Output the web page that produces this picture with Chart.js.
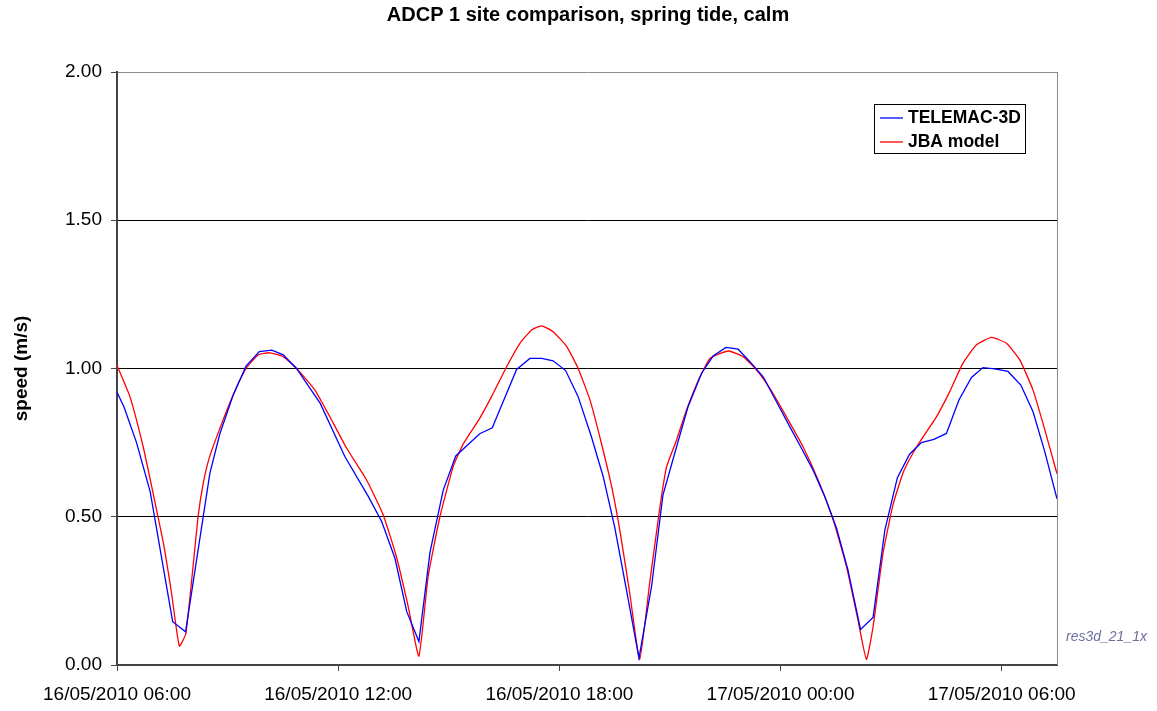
<!DOCTYPE html>
<html lang="en">
<head>
    <meta charset="UTF-8">
    <title>ADCP 1 site comparison</title>
    <script src="https://cdn.jsdelivr.net/npm/chart.js"></script>
    <style>
        body { margin: 0; background: #fff; }
        #chart-container { width: 1157px; height: 711px; }
    </style>
</head>
<body>
    <div id="chart-container">
        <canvas id="speedChart" width="1157" height="711"></canvas>
    </div>

    <script>
        // hours after 16/05/2010 06:00
        const tickHours = [0, 6, 12, 18, 24];
        const tickLabels = ["16/05/2010 06:00", "16/05/2010 12:00", "16/05/2010 18:00", "17/05/2010 00:00", "17/05/2010 06:00"];

        const telemacHours = [0, 0.19, 0.53, 0.9, 1.51, 1.86, 2.52, 2.79, 3.15, 3.5, 3.86, 4.2, 4.51, 4.87, 5.2, 5.51,
            6.18, 6.82, 7.18, 7.54, 7.86, 8.19, 8.49, 8.85, 9.19, 9.84, 10.18, 10.84, 11.2, 11.52, 11.83, 12.17,
            12.51, 12.87, 13.19, 13.5, 13.82, 14.16, 14.5, 14.81, 15.13, 15.49, 15.86, 16.17, 16.52, 16.85, 17.17,
            17.53, 17.89, 18.25, 18.52, 18.88, 19.2, 19.52, 19.83, 20.17, 20.51, 20.83, 21.17, 21.5, 21.82, 22.16,
            22.5, 22.84, 23.18, 23.49, 23.81, 24.17, 24.52, 24.85, 25.17, 25.5];
        const telemacSpeed = [0.92, 0.87, 0.75, 0.585, 0.146, 0.112, 0.647, 0.78, 0.91, 1.008, 1.057, 1.062, 1.046, 1.0, 0.94, 0.883,
            0.703, 0.568, 0.484, 0.36, 0.18, 0.079, 0.38, 0.59, 0.705, 0.78, 0.80, 0.997, 1.034, 1.034, 1.026, 0.993,
            0.905, 0.77, 0.635, 0.466, 0.253, 0.023, 0.264, 0.573, 0.714, 0.871, 0.984, 1.042, 1.071, 1.065, 1.023,
            0.972, 0.888, 0.804, 0.742, 0.658, 0.568, 0.461, 0.32, 0.12, 0.16, 0.455, 0.632, 0.711, 0.75, 0.761,
            0.781, 0.894, 0.97, 1.003, 0.999, 0.99, 0.944, 0.854, 0.719, 0.56];

        const jbaHours = [0, 0.35, 0.71, 0.98, 1.26, 1.48, 1.69, 1.87, 2.2, 2.34, 2.5, 2.79, 3.15, 3.5, 3.83, 4.15,
            4.51, 4.87, 5.37, 5.87, 6.23, 6.77, 7.22, 7.58, 7.9, 8.19, 8.44, 8.76, 9.12, 9.39, 9.84, 10.16,
            10.57, 10.93, 11.25, 11.52, 11.83, 12.2, 12.51, 12.83, 13.14, 13.42, 13.64, 13.91, 14.18, 14.45, 14.73,
            14.91, 15.18, 15.45, 15.81, 16.08, 16.35, 16.6, 16.98, 17.35, 17.71, 18.16, 18.61, 19.02, 19.43, 19.79,
            20.1, 20.33, 20.51, 20.78, 21.05, 21.32, 21.59, 21.87, 22.23, 22.59, 22.95, 23.31, 23.72, 24.13, 24.49,
            24.85, 25.17, 25.5];
        const jbaSpeed = [1.01, 0.905, 0.736, 0.579, 0.41, 0.242, 0.064, 0.107, 0.5, 0.613, 0.697, 0.798, 0.911, 1.0, 1.046, 1.053,
            1.04, 1.0, 0.927, 0.815, 0.731, 0.624, 0.507, 0.365, 0.197, 0.03, 0.298, 0.5, 0.669, 0.745, 0.832, 0.905,
            1.006, 1.085, 1.13, 1.144, 1.124, 1.074, 1.0, 0.894, 0.748, 0.601, 0.455, 0.242, 0.019, 0.276, 0.534,
            0.669, 0.759, 0.86, 0.971, 1.033, 1.05, 1.059, 1.04, 0.995, 0.933, 0.837, 0.736, 0.624, 0.489, 0.332,
            0.152, 0.019, 0.129, 0.377, 0.54, 0.647, 0.714, 0.77, 0.837, 0.922, 1.018, 1.079, 1.105, 1.085, 1.029,
            0.927, 0.793, 0.645];

        const chartTitle = "ADCP 1 site comparison, spring tide, calm";
        const FONT = "'Liberation Sans', Arial, sans-serif";

        function toPoints(hours, values) {
            return hours.map((h, i) => ({ x: h, y: values[i] }));
        }

        // title, right frame line, legend box and the file tag
        const extras = {
            id: "extras",
            afterDraw(chart) {
                const ctx = chart.ctx;
                const area = chart.chartArea;
                ctx.save();
                ctx.fillStyle = "#000";
                ctx.font = "bold 20px " + FONT;
                ctx.textAlign = "center";
                ctx.textBaseline = "middle";
                ctx.fillText(chartTitle, 588, 15);
                ctx.textAlign = "left";

                ctx.strokeStyle = "#8c8c8c";
                ctx.lineWidth = 1;
                ctx.beginPath();
                ctx.moveTo(area.right + 0.5, area.top);
                ctx.lineTo(area.right + 0.5, area.bottom);
                ctx.stroke();

                // legend
                ctx.fillStyle = "#fff";
                ctx.fillRect(874.5, 104.5, 151, 49);
                ctx.strokeStyle = "#000";
                ctx.strokeRect(874.5, 104.5, 151, 49);
                ctx.font = "bold 17.5px " + FONT;
                chart.data.datasets.forEach((ds, i) => {
                    const y = 118 + i * 24;
                    ctx.strokeStyle = ds.borderColor;
                    ctx.lineWidth = 1.3;
                    ctx.beginPath();
                    ctx.moveTo(880, y);
                    ctx.lineTo(903, y);
                    ctx.stroke();
                    ctx.fillStyle = "#000";
                    ctx.fillText(ds.label, 908, y);
                });

                ctx.font = "italic 14px " + FONT;
                ctx.fillStyle = "#6e6e9e";
                ctx.fillText("res3d_21_1x", 1066, 637);
                ctx.restore();
            }
        };

        new Chart(document.getElementById("speedChart"), {
            type: "line",
            data: {
                datasets: [
                    {
                        label: "TELEMAC-3D",
                        data: toPoints(telemacHours, telemacSpeed),
                        borderColor: "#0000ff",
                        borderWidth: 1.3,
                        pointRadius: 0,
                        tension: 0
                    },
                    {
                        label: "JBA model",
                        data: toPoints(jbaHours, jbaSpeed),
                        borderColor: "#ff0000",
                        borderWidth: 1.3,
                        pointRadius: 0,
                        tension: 0.15
                    }
                ]
            },
            options: {
                responsive: false,
                animation: false,
                layout: { padding: { left: 0, right: 100, top: 72, bottom: 0 } },
                plugins: {
                    legend: { display: false },
                    tooltip: { enabled: false },
                    title: { display: false }
                },
                scales: {
                    x: {
                        type: "linear",
                        min: 0,
                        max: 25.5,
                        afterBuildTicks: scale => { scale.ticks = tickHours.map(v => ({ value: v })); },
                        afterFit: scale => { scale.height = 46; },
                        ticks: {
                            autoSkip: false,
                            maxRotation: 0,
                            padding: 12,
                            color: "#000",
                            font: { family: FONT, size: 19 },
                            callback: value => tickLabels[tickHours.indexOf(value)]
                        },
                        grid: {
                            drawOnChartArea: false,
                            tickLength: 6,
                            tickColor: "#444"
                        },
                        border: { color: "#444", width: 2 }
                    },
                    y: {
                        min: 0,
                        max: 2,
                        afterFit: scale => { scale.width = 117; },
                        ticks: {
                            stepSize: 0.5,
                            padding: 9,
                            color: "#000",
                            font: { family: FONT, size: 19 },
                            callback: value => value.toFixed(2)
                        },
                        grid: {
                            color: c => c.tick.value === 2 ? "#8c8c8c" : (c.tick.value === 0 ? "rgba(0,0,0,0)" : "#000"),
                            tickLength: 6,
                            tickColor: "#444"
                        },
                        border: { color: "#444", width: 2 },
                        title: {
                            display: true,
                            text: "speed (m/s)",
                            color: "#000",
                            font: { family: FONT, size: 19, weight: "bold" },
                            padding: { top: 10, bottom: 0 }
                        }
                    }
                }
            },
            plugins: [extras]
        });
    </script>
</body>
</html>
